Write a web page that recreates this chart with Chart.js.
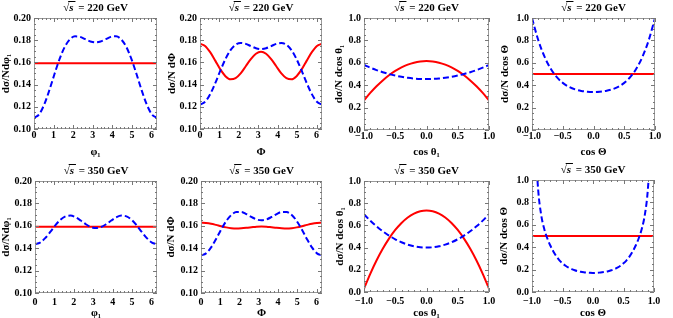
<!DOCTYPE html>
<html>
<head>
<meta charset="utf-8">
<script src="https://cdn.jsdelivr.net/npm/chart.js@4.4.0/dist/chart.umd.min.js"></script>
<style>
html, body { margin:0; padding:0; background:#fff; }
body { width:673px; height:318px; position:relative; overflow:hidden; }
canvas { position:absolute; }
</style>
</head>
<body>
<canvas id="c1"></canvas><canvas id="c2"></canvas><canvas id="c3"></canvas><canvas id="c4"></canvas>
<canvas id="c5"></canvas><canvas id="c6"></canvas><canvas id="c7"></canvas><canvas id="c8"></canvas>
<script>
// x grids
const phiX = [0, 0.2618, 0.5236, 0.7854, 1.0472, 1.309, 1.5708, 1.8326, 2.0944, 2.3562, 2.618, 2.8798, 3.1416,
  3.4034, 3.6652, 3.927, 4.1888, 4.4506, 4.7124, 4.9742, 5.236, 5.4978, 5.7596, 6.0214, 6.2832];
const flatPhiX = [0, 6.2832];
const cosX = [-1.0, -0.9, -0.8, -0.7, -0.6, -0.5, -0.4, -0.3, -0.2, -0.1, 0.0, 0.1, 0.2, 0.3, 0.4, 0.5, 0.6, 0.7, 0.8, 0.9, 1.0];
const cosXFine = [-1.0, -0.95, -0.9, -0.85, -0.8, -0.75, -0.7, -0.65, -0.6, -0.55, -0.5, -0.45, -0.4, -0.35, -0.3, -0.25, -0.2, -0.15, -0.1, -0.05,
  0.0, 0.05, 0.1, 0.15, 0.2, 0.25, 0.3, 0.35, 0.4, 0.45, 0.5, 0.55, 0.6, 0.65, 0.7, 0.75, 0.8, 0.85, 0.9, 0.95, 1.0];
const flatCosX = [-1, 1];

// tick labels
const phiTicks = [0, 1, 2, 3, 4, 5, 6];
const cosTicks = [-1.0, -0.5, 0.0, 0.5, 1.0];
const phiYTicks = [0.10, 0.12, 0.14, 0.16, 0.18, 0.20];
const cosYTicks = [0.0, 0.2, 0.4, 0.6, 0.8, 1.0];

// sqrt(s) = 220 GeV
const red220phi1 = [0.1592, 0.1592];
const blue220phi1 = [0.1100, 0.1132, 0.1221, 0.1350, 0.1495, 0.1632, 0.1740, 0.1808, 0.1835, 0.1830, 0.1809, 0.1789, 0.1780,
  0.1789, 0.1809, 0.1830, 0.1835, 0.1808, 0.1740, 0.1632, 0.1495, 0.1350, 0.1221, 0.1132, 0.1100];
const red220Phi = [0.1768, 0.1748, 0.1692, 0.1616, 0.1537, 0.1476, 0.1448, 0.1458, 0.1501, 0.1565, 0.1630, 0.1678, 0.1696,
  0.1678, 0.1630, 0.1565, 0.1501, 0.1458, 0.1448, 0.1476, 0.1537, 0.1616, 0.1692, 0.1748, 0.1768];
const blue220Phi = [0.1220, 0.1245, 0.1314, 0.1413, 0.1525, 0.1629, 0.1710, 0.1759, 0.1775, 0.1767, 0.1747, 0.1728, 0.1720,
  0.1728, 0.1747, 0.1767, 0.1775, 0.1759, 0.1710, 0.1629, 0.1525, 0.1413, 0.1314, 0.1245, 0.1220];
const red220cos1 = [0.264, 0.3307, 0.3904, 0.4430, 0.4886, 0.5273, 0.5588, 0.5834, 0.6010, 0.6115, 0.615,
  0.6115, 0.6010, 0.5834, 0.5588, 0.5273, 0.4886, 0.4430, 0.3904, 0.3307, 0.264];
const blue220cos1 = [0.580, 0.5563, 0.535, 0.5163, 0.500, 0.4863, 0.475, 0.4663, 0.460, 0.4563, 0.455,
  0.4563, 0.460, 0.4663, 0.475, 0.4863, 0.500, 0.5163, 0.535, 0.5563, 0.580];
const red220cosT = [0.5, 0.5];
const blue220cosT = [1.0, 0.8053, 0.6587, 0.5509, 0.4739, 0.4206, 0.3851, 0.3626, 0.3491, 0.3421, 0.340,
  0.3421, 0.3491, 0.3626, 0.3851, 0.4206, 0.4739, 0.5509, 0.6587, 0.8053, 1.0];

// sqrt(s) = 350 GeV
const red350phi1 = [0.1592, 0.1592];
const blue350phi1 = [0.1436, 0.1450, 0.1490, 0.1545, 0.1604, 0.1654, 0.1684, 0.1691, 0.1676, 0.1647, 0.1614, 0.1589, 0.1580,
  0.1589, 0.1614, 0.1647, 0.1676, 0.1691, 0.1684, 0.1654, 0.1604, 0.1545, 0.1490, 0.1450, 0.1436];
const red350Phi = [0.1629, 0.1626, 0.1619, 0.1608, 0.1596, 0.1586, 0.1579, 0.1576, 0.1578, 0.1582, 0.1587, 0.1592, 0.1593,
  0.1592, 0.1587, 0.1582, 0.1578, 0.1576, 0.1579, 0.1586, 0.1596, 0.1608, 0.1619, 0.1626, 0.1629];
const blue350Phi = [0.1335, 0.1354, 0.1407, 0.1483, 0.1567, 0.1642, 0.1696, 0.1723, 0.1724, 0.1705, 0.1679, 0.1657, 0.1649,
  0.1657, 0.1679, 0.1705, 0.1724, 0.1723, 0.1696, 0.1642, 0.1567, 0.1483, 0.1407, 0.1354, 0.1335];
const red350cos1 = [0.030, 0.1640, 0.2838, 0.3896, 0.4812, 0.5588, 0.6222, 0.6716, 0.7068, 0.7280, 0.735,
  0.7280, 0.7068, 0.6716, 0.6222, 0.5588, 0.4812, 0.3896, 0.2838, 0.1640, 0.030];
const blue350cos1 = [0.700, 0.643, 0.592, 0.547, 0.508, 0.475, 0.448, 0.427, 0.412, 0.403, 0.400,
  0.403, 0.412, 0.427, 0.448, 0.475, 0.508, 0.547, 0.592, 0.643, 0.700];
const red350cosT = [0.5, 0.5];
const blue350cosT = [2.20, 1.40, 0.920, 0.690, 0.565, 0.480, 0.415, 0.362, 0.318, 0.283, 0.256, 0.234, 0.217, 0.204, 0.194, 0.186, 0.180, 0.176, 0.173, 0.171,
  0.170, 0.171, 0.173, 0.176, 0.180, 0.186, 0.194, 0.204, 0.217, 0.234, 0.256, 0.283, 0.318, 0.362, 0.415, 0.480, 0.565, 0.690, 0.920, 1.40, 2.20];

const FONT = '"Liberation Serif", "Times New Roman", serif';

// title: sqrt(s) = ... GeV, centred over the plot area
const panelTitle = {
  id: 'panelTitle',
  afterDraw(chart, args, opts) {
    const {ctx, chartArea: {left, right, top}} = chart;
    const bold = 'bold 11px ' + FONT, ital = 'italic bold 11px ' + FONT;
    const rest = ' = ' + opts.energy + ' GeV';
    ctx.save();
    ctx.fillStyle = '#000';
    ctx.textBaseline = 'middle';
    ctx.textAlign = 'left';
    ctx.font = bold;
    const wRad = ctx.measureText('√').width;
    const wRest = ctx.measureText(rest).width;
    ctx.font = ital;
    const wS = ctx.measureText('s').width + 2;
    const y = top - 10;
    let x = (left + right) / 2 - (wRad + wS + wRest) / 2;
    ctx.font = bold;
    ctx.fillText('√', x, y);
    x += wRad;
    ctx.font = ital;
    ctx.fillText('s', x, y);
    ctx.strokeStyle = '#000';
    ctx.lineWidth = 1;
    ctx.beginPath();
    ctx.moveTo(x - 1, y - 6.5);
    ctx.lineTo(x + wS, y - 6.5);
    ctx.stroke();
    x += wS;
    ctx.font = bold;
    ctx.fillText(rest, x, y);
    ctx.restore();
  }
};

// Mathematica-like frame with inward ticks on all four sides
const frame = {
  id: 'frame',
  afterDatasetsDraw(chart, args, opts) {
    const {ctx, chartArea: {left, right, top, bottom}, scales: {x, y}} = chart;
    ctx.save();
    ctx.strokeStyle = '#999';
    ctx.lineWidth = 1;
    ctx.strokeRect(left + 0.5, top + 0.5, right - left - 1, bottom - top - 1);
    ctx.strokeStyle = '#777';
    ctx.beginPath();
    const xs = (v, len) => {
      const p = Math.round(x.getPixelForValue(v)) + 0.5;
      ctx.moveTo(p, bottom); ctx.lineTo(p, bottom - len);
      ctx.moveTo(p, top); ctx.lineTo(p, top + len);
    };
    const ys = (v, len) => {
      const p = Math.round(y.getPixelForValue(v)) + 0.5;
      ctx.moveTo(left, p); ctx.lineTo(left + len, p);
      ctx.moveTo(right, p); ctx.lineTo(right - len, p);
    };
    for (let v = opts.xStart; v <= x.max + 1e-9; v += opts.xMinor) xs(v, 2);
    for (let v = y.min; v <= y.max + 1e-9; v += opts.yMinor) ys(v, 2);
    opts.xMajor.forEach(v => xs(v, 4));
    opts.yMajor.forEach(v => ys(v, 4));
    ctx.stroke();
    ctx.restore();
  }
};

const panels = [
  {id: 'c1', box: [0, 0, 168, 159], plot: [34, 18, 157, 129], tickPad: 0, energy: '220', kind: 'phi',
   yTitle: 'dσ/Ndφ₁', xTitle: 'φ₁', red: [flatPhiX, red220phi1], blue: [phiX, blue220phi1]},
  {id: 'c2', box: [166, 0, 168, 159], plot: [200, 18, 322, 129], tickPad: 0, energy: '220', kind: 'phi',
   yTitle: 'dσ/N dΦ', xTitle: 'Φ', red: [phiX, red220Phi], blue: [phiX, blue220Phi]},
  {id: 'c3', box: [333, 0, 168, 159], plot: [364, 18, 489, 130], tickPad: 0, energy: '220', kind: 'cos',
   yTitle: 'dσ/N dcos θ₁', xTitle: 'cos θ₁', red: [cosX, red220cos1], blue: [cosX, blue220cos1]},
  {id: 'c4', box: [499, 0, 174, 159], plot: [532, 18, 655, 130], tickPad: 0, energy: '220', kind: 'cos',
   yTitle: 'dσ/N dcos Θ', xTitle: 'cos Θ', red: [flatCosX, red220cosT], blue: [cosX, blue220cosT]},
  {id: 'c5', box: [0, 160, 168, 160], plot: [35, 181, 157, 293], tickPad: 3, energy: '350', kind: 'phi',
   yTitle: 'dσ/Ndφ₁', xTitle: 'φ₁', red: [flatPhiX, red350phi1], blue: [phiX, blue350phi1]},
  {id: 'c6', box: [165, 160, 169, 160], plot: [201, 181, 322, 293], tickPad: 3, energy: '350', kind: 'phi',
   yTitle: 'dσ/N dΦ', xTitle: 'Φ', red: [phiX, red350Phi], blue: [phiX, blue350Phi]},
  {id: 'c7', box: [334, 160, 167, 160], plot: [364, 181, 489, 292], tickPad: 3, energy: '350', kind: 'cos',
   yTitle: 'dσ/N dcos θ₁', xTitle: 'cos θ₁', red: [cosX, red350cos1], blue: [cosX, blue350cos1]},
  {id: 'c8', box: [498, 160, 175, 160], plot: [532, 180, 654, 292], tickPad: 3, energy: '350', kind: 'cos',
   yTitle: 'dσ/N dcos Θ', xTitle: 'cos Θ', red: [flatCosX, red350cosT], blue: [cosXFine, blue350cosT]}
];

function toPoints(pair) {
  return pair[0].map((x, i) => ({x: x, y: pair[1][i]}));
}

function fmt(v, d) {
  return Number(v).toFixed(d).replace('-', '−');
}

function makePanel(p) {
  const [bx, by, bw, bh] = p.box;
  const [l, t, r, b] = p.plot;
  const isPhi = p.kind === 'phi';
  const canvas = document.getElementById(p.id);
  canvas.width = bw;
  canvas.height = bh;
  canvas.style.left = bx + 'px';
  canvas.style.top = by + 'px';
  canvas.style.width = bw + 'px';
  canvas.style.height = bh + 'px';

  const xTicks = isPhi ? phiTicks : cosTicks;
  const yTicks = isPhi ? phiYTicks : cosYTicks;
  const tickFont = {family: FONT, size: 10, weight: 'bold'};
  const titleFont = {family: FONT, size: 11, weight: 'bold'};

  new Chart(canvas, {
    type: 'line',
    data: {
      datasets: [
        {data: toPoints(p.blue), borderColor: '#0000ff', borderWidth: 2, borderDash: [6, 3],
         pointRadius: 0, cubicInterpolationMode: 'monotone', clip: 0},
        {data: toPoints(p.red), borderColor: '#ff0000', borderWidth: 2,
         pointRadius: 0, cubicInterpolationMode: 'monotone', clip: 0}
      ]
    },
    options: {
      responsive: false,
      animation: false,
      events: [],
      layout: {padding: {left: 0, bottom: 0, top: t - by, right: bx + bw - r}},
      plugins: {
        legend: {display: false},
        tooltip: {enabled: false},
        panelTitle: {energy: p.energy},
        frame: {
          xMajor: xTicks, yMajor: yTicks,
          xStart: isPhi ? 0 : -1, xMinor: isPhi ? 0.2 : 0.1,
          yMinor: isPhi ? 0.005 : 0.05
        }
      },
      scales: {
        x: {
          type: 'linear',
          min: isPhi ? 0 : -1,
          max: isPhi ? 6.2832 : 1,
          afterBuildTicks: s => { s.ticks = xTicks.map(v => ({value: v})); },
          afterFit: s => { s.height = by + bh - b; },
          grid: {display: false, drawTicks: false},
          border: {display: false},
          ticks: {autoSkip: false, maxRotation: 0, padding: p.tickPad, color: '#000', font: tickFont,
                  callback: v => isPhi ? String(v) : fmt(v, 1)},
          title: {display: true, text: p.xTitle, color: '#000', font: titleFont, padding: {top: 0, bottom: 0}}
        },
        y: {
          type: 'linear',
          min: isPhi ? 0.10 : 0.0,
          max: isPhi ? 0.20 : 1.0,
          afterBuildTicks: s => { s.ticks = yTicks.map(v => ({value: v})); },
          afterFit: s => { s.width = l - bx; },
          grid: {display: false, drawTicks: false},
          border: {display: false},
          ticks: {padding: 3, color: '#000', font: tickFont,
                  callback: v => fmt(v, isPhi ? 2 : 1)},
          title: {display: true, text: p.yTitle, color: '#000', font: titleFont, padding: {top: 0, bottom: 0}}
        }
      }
    },
    plugins: [panelTitle, frame]
  });
}

panels.forEach(makePanel);
</script>
</body>
</html>
